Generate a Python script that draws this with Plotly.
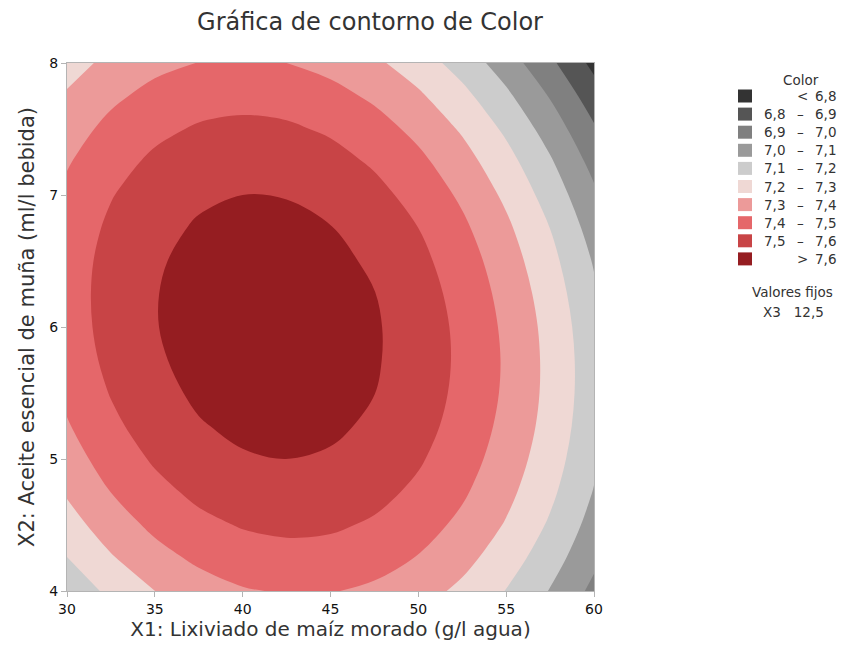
"""Gráfica de contorno de Color (X3 fijo en 12,5)"""

import plotly.graph_objects as go

# X1: lixiviado de maíz morado (g/l agua)
x1_vals = [30, 32.5, 35, 37.5, 40, 42.5, 45, 47.5, 50, 52.5, 55, 57.5, 60]
# X2: aceite esencial de muña (ml/l bebida)
x2_vals = [4, 4.25, 4.5, 4.75, 5, 5.25, 5.5, 5.75, 6, 6.25, 6.5, 6.75, 7, 7.25, 7.5, 7.75, 8]

# Color, una fila por cada valor de X2 (X1 de 30 a 60)
color_x2_4_00 = [7.129, 7.224, 7.2997, 7.355, 7.392, 7.408, 7.405, 7.382, 7.340, 7.278, 7.197, 7.095, 6.975]
color_x2_4_25 = [7.198, 7.291, 7.365, 7.419, 7.453, 7.468, 7.463, 7.439, 7.395, 7.331, 7.248, 7.145, 7.023]
color_x2_4_50 = [7.259, 7.350, 7.422, 7.475, 7.507, 7.520, 7.514, 7.488, 7.442, 7.377, 7.292, 7.187, 7.063]
color_x2_4_75 = [7.311, 7.401, 7.471, 7.522, 7.553, 7.564, 7.556, 7.528, 7.481, 7.414, 7.327, 7.221, 7.095]
color_x2_5_00 = [7.356, 7.444, 7.512, 7.561, 7.591, 7.6002, 7.590, 7.561, 7.511, 7.443, 7.354, 7.246, 7.119]
color_x2_5_25 = [7.392, 7.479, 7.545, 7.593, 7.620, 7.628, 7.616, 7.585, 7.534, 7.464, 7.373, 7.264, 7.134]
color_x2_5_50 = [7.421, 7.505, 7.570, 7.616, 7.642, 7.648, 7.634, 7.601, 7.549, 7.476, 7.385, 7.273, 7.142]
color_x2_5_75 = [7.441, 7.524, 7.587, 7.631, 7.655, 7.659, 7.644, 7.609, 7.555, 7.481, 7.388, 7.274, 7.142]
color_x2_6_00 = [7.453, 7.534, 7.596, 7.638, 7.660, 7.663, 7.646, 7.610, 7.553, 7.478, 7.382, 7.268, 7.133]
color_x2_6_25 = [7.457, 7.536, 7.596, 7.637, 7.657, 7.658, 7.640, 7.602, 7.544, 7.466, 7.369, 7.253, 7.116]
color_x2_6_50 = [7.453, 7.531, 7.589, 7.627, 7.646, 7.646, 7.625, 7.585, 7.526, 7.447, 7.348, 7.230, 7.092]
color_x2_6_75 = [7.441, 7.517, 7.573, 7.610, 7.627, 7.625, 7.603, 7.561, 7.4999, 7.419, 7.319, 7.199, 7.059]
color_x2_7_00 = [7.421, 7.495, 7.550, 7.585, 7.6001, 7.596, 7.572, 7.529, 7.466, 7.383, 7.281, 7.159, 7.018]
color_x2_7_25 = [7.392, 7.465, 7.518, 7.551, 7.565, 7.559, 7.534, 7.488, 7.424, 7.340, 7.236, 7.112, 6.969]
color_x2_7_50 = [7.356, 7.427, 7.478, 7.510, 7.522, 7.514, 7.487, 7.440, 7.374, 7.288, 7.182, 7.057, 6.912]
color_x2_7_75 = [7.311, 7.380, 7.430, 7.460, 7.470, 7.461, 7.432, 7.383, 7.315, 7.228, 7.120, 6.993, 6.847]
color_x2_8_00 = [7.259, 7.326, 7.374, 7.402, 7.411, 7.400, 7.369, 7.319, 7.249, 7.159, 7.050, 6.922, 6.773]

color_z = [
    color_x2_4_00, color_x2_4_25, color_x2_4_50, color_x2_4_75,
    color_x2_5_00, color_x2_5_25, color_x2_5_50, color_x2_5_75,
    color_x2_6_00, color_x2_6_25, color_x2_6_50, color_x2_6_75,
    color_x2_7_00, color_x2_7_25, color_x2_7_50, color_x2_7_75,
    color_x2_8_00,
]

# niveles del contorno y colores de cada banda (de menor a mayor)
levels = [6.8, 6.9, 7.0, 7.1, 7.2, 7.3, 7.4, 7.5, 7.6]
band_colors = [
    "#333333", "#555555", "#808080", "#9a9a9a", "#cccccc",
    "#efd8d4", "#ec9a99", "#e5676a", "#c84446", "#951d21",
]
fixed_label = "X3"
fixed_value = "12,5"

TEXT = "#333333"
FONT = "DejaVu Sans"

# page body has an 8px margin; positions below are in screen pixels.
# figure is sized so the page does not scroll in the 847x650 window
OFF = 8
SL, SR, ST, SB = 67, 594, 63, 591  # plot area on screen
W, H = 847 - OFF, 650 - 2 * OFF


def px(x):
    return (x - SL) / (SR - SL)


def py(y):
    return (SB - y) / (SB - ST)


def fmt(v):
    return f"{v:.1f}".replace(".", ",")


def step_scale(colors):
    n = len(colors)
    scale = []
    for i, c in enumerate(colors):
        lo = max(0.0, (i - 0.5) / (n - 1))
        hi = min(1.0, (i + 0.5) / (n - 1))
        scale += [[lo, c], [hi, c]]
    return scale


fig = go.Figure(
    go.Contour(
        x=x1_vals,
        y=x2_vals,
        z=color_z,
        contours=dict(
            coloring="fill",
            start=levels[0],
            end=levels[-1],
            size=round(levels[1] - levels[0], 3),
        ),
        colorscale=step_scale(band_colors),
        line=dict(width=0, smoothing=1.0),
        showscale=False,
        hoverinfo="skip",
    )
)

axis_style = dict(
    automargin=False,
    showgrid=False,
    zeroline=False,
    showline=True,
    mirror=True,
    linecolor="#b4b4b4",
    linewidth=1,
    ticks="outside",
    ticklen=5,
    tickcolor="#b4b4b4",
    tickfont=dict(family=FONT, size=14, color="#111111"),
    title_font=dict(family=FONT, size=20, color=TEXT),
)

fig.update_layout(
    width=W,
    height=H,
    margin=dict(l=SL - OFF, r=W - (SR - OFF), t=ST - OFF, b=H - (SB - OFF)),
    paper_bgcolor="white",
    plot_bgcolor="white",
    showlegend=False,
    title=dict(
        text="Gráfica de contorno de Color",
        x=px(370),
        xref="paper",
        xanchor="center",
        y=1 - (22 - OFF) / H,
        yanchor="middle",
        font=dict(family=FONT, size=24, color=TEXT),
    ),
    xaxis=dict(
        axis_style,
        range=[30, 60],
        tickvals=[30, 35, 40, 45, 50, 55, 60],
        title=dict(text="X1: Lixiviado de maíz morado (g/l agua)", standoff=6),
    ),
    yaxis=dict(
        axis_style,
        range=[4, 8],
        tickvals=[4, 5, 6, 7, 8],
        title=dict(
            text="X2: Aceite esencial de muña (ml/l bebida)",
            standoff=8,
            font=dict(family=FONT, size=21, color=TEXT),
        ),
    ),
)

# legend built by hand: swatch + "low – high" columns
legend_font = dict(family=FONT, size=13.5, color=TEXT)
LX = -5  # small shift so the last column is not cut at the window edge


def note(text, x, y, anchor="center", yanchor="middle"):
    fig.add_annotation(
        text=text, x=px(x + LX), y=py(y), xref="paper", yref="paper",
        xanchor=anchor, yanchor=yanchor, showarrow=False, font=legend_font,
    )


note("Color", 806, 80)
row_y0, row_dy = 96, 18.1
for i, c in enumerate(band_colors):
    yc = row_y0 + row_dy * i
    fig.add_shape(
        type="rect", xref="paper", yref="paper",
        x0=px(743 + LX), x1=px(757 + LX), y0=py(yc + 6.5), y1=py(yc - 6.5),
        fillcolor=c, line=dict(width=0),
    )
    if i == 0:
        note("<", 807, yc)
        note(fmt(levels[0]), 843, yc, "right")
    elif i == len(band_colors) - 1:
        note(">", 807, yc)
        note(fmt(levels[-1]), 843, yc, "right")
    else:
        note(fmt(levels[i - 1]), 792, yc, "right")
        note("–", 805, yc)
        note(fmt(levels[i]), 843, yc, "right")

note("Valores fijos", 797, 302, yanchor="bottom")
note(fixed_label + "\u00a0\u00a0\u00a0" + fixed_value, 798, 302, yanchor="top")

fig.write_html("out.html")
